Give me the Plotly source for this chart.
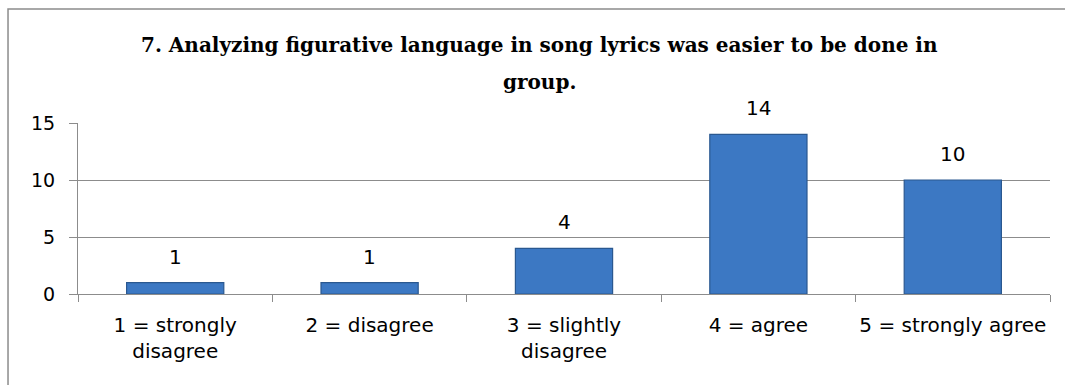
import plotly.graph_objects as go

# Survey responses for statement 7
categories = ["1 = strongly<br>disagree", "2 = disagree", "3 = slightly<br>disagree",
              "4 = agree", "5 = strongly agree"]
counts = [1, 1, 4, 14, 10]
y_ticks = [0, 5, 10, 15]
title_lines = ["7. Analyzing figurative language in song lyrics was easier to be done in",
               "group."]

label_font = dict(family="DejaVu Sans", size=20, color="#000000")
ytick_font = dict(family="DejaVu Sans", size=19, color="#000000")

fig = go.Figure()
fig.add_trace(go.Bar(
    x=categories,
    y=counts,
    marker=dict(color="#3C78C3", line=dict(color="#2A5890", width=1.2)),
    hoverinfo="skip",
))

# Value labels sitting above each bar
for cat, val in zip(categories, counts):
    fig.add_annotation(
        x=cat, y=val, text=str(val), showarrow=False,
        xanchor="center", yanchor="bottom", yshift=12, font=label_font,
    )

fig.update_layout(
    width=1065, height=385,
    margin=dict(l=78, r=15, t=123, b=91, autoexpand=False),
    paper_bgcolor="white",
    plot_bgcolor="white",
    bargap=0.5,
    showlegend=False,
    font=label_font,
)

fig.update_xaxes(
    type="category",
    showline=True, linecolor="#8c8c8c", linewidth=1,
    ticks="outside", tickson="boundaries", ticklen=7, tickcolor="#8c8c8c",
    showgrid=False,
    tickfont=label_font,
    tickangle=0,
    automargin=False,
    ticklabelstandoff=13,
)
fig.update_yaxes(
    range=[0, 15],
    tickvals=y_ticks,
    showline=True, linecolor="#8c8c8c", linewidth=1,
    ticks="outside", ticklen=8, tickcolor="#8c8c8c",
    showgrid=True, gridcolor="#8c8c8c", gridwidth=1,
    zeroline=False,
    tickfont=ytick_font,
    automargin=False,
    ticklabelstandoff=10,
)

# Two-line bold serif title
title_font = dict(family="DejaVu Serif", size=20, color="#000000", weight="bold")
for text, ypos in zip(title_lines, [1.456, 1.24]):
    fig.add_annotation(
        text=text, xref="paper", yref="paper", x=0.475, y=ypos,
        xanchor="center", yanchor="middle", showarrow=False, font=title_font,
    )

# Chart frame
fig.add_shape(
    type="rect", xref="paper", yref="paper",
    x0=-0.0720, x1=1.1, y0=-0.65, y1=1.667,
    line=dict(color="#8c8c8c", width=1.5), fillcolor="rgba(0,0,0,0)", layer="below",
)

fig.write_html("out.html")
